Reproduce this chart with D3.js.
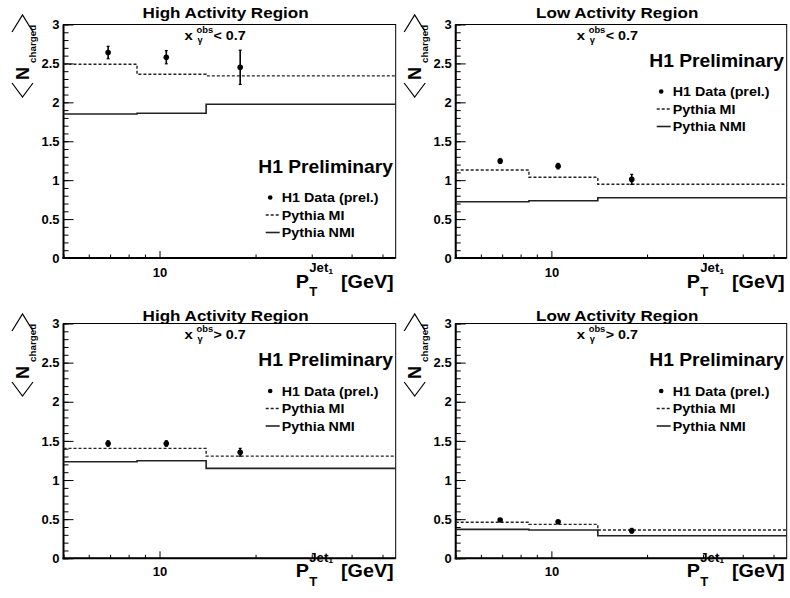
<!DOCTYPE html>
<html>
<head>
<meta charset="utf-8">
<script src="https://cdn.jsdelivr.net/npm/d3@7"></script>
<style>
body { margin: 0; background: #fff; }
svg text { font-family: "Liberation Sans", Arial, sans-serif; font-weight: bold; fill: #000; }
</style>
</head>
<body>
<div id="chart"></div>
<script>
// bins in P_T (GeV) and mean P_T of the data points
const binEdges = [5, 8.5, 14, 55];
const ptMeans = [6.9, 10.5, 17.9];

// panels: top-left, top-right, bottom-left, bottom-right
const regionTitles = ["High Activity Region", "Low Activity Region", "High Activity Region", "Low Activity Region"];
const xgCuts = ["< 0.7", "< 0.7", "> 0.7", "> 0.7"];

const dataY   = [[2.64, 2.58, 2.45], [1.245, 1.18, 1.01], [1.467, 1.467, 1.355], [0.49, 0.467, 0.352]];
const dataErr = [[0.08, 0.085, 0.22], [0.03, 0.035, 0.065], [0.035, 0.035, 0.05], [0.015, 0.015, 0.03]];
const pythiaMI  = [[2.49, 2.36, 2.34], [1.13, 1.037, 0.947], [1.405, 1.405, 1.306], [0.46, 0.434, 0.361]];
const pythiaNMI = [[1.85, 1.86, 1.975], [0.723, 0.736, 0.775], [1.234, 1.247, 1.149], [0.37, 0.361, 0.289]];

const yMajor = [0, 0.5, 1, 1.5, 2, 2.5, 3];
const xMajor = [10];
const xMinor = [5, 6, 7, 8, 9, 20, 30, 40, 50];
const legendLabels = ["H1 Data (prel.)", "Pythia MI", "Pythia NMI"];

const W = 790, H = 598, SX = 1.1;
const cols = [[63.5, 395.7], [455.7, 786.7]];
const rows = [[24.5, 258], [323.5, 558.3]];
const legTop = [177.5, 71.5, 72, 72];
const titleDy = [-6.3, -2.5];
const xlabDy = [29.5, 18.7];
const tickDy = [18.7, 17.7];

const svg = d3.select("#chart").append("svg")
    .attr("width", W)
    .attr("height", H);

function txt(g, x, y, s, size, anchor) {
    return g.append("text")
        .attr("transform", `translate(${x},${y}) scale(${SX},1)`)
        .attr("text-anchor", anchor || "start")
        .style("font-size", size + "px")
        .text(s);
}

function drawPanel(p) {
    const r = Math.floor(p / 2), c = p % 2;
    const [L, R] = cols[c];
    const [T, B] = rows[r];
    const g = svg.append("g");

    const x = d3.scaleLog().domain([binEdges[0], binEdges[binEdges.length - 1]]).range([L, R]);
    const y = d3.scaleLinear().domain([0, 3]).range([B, T]);

    // frame
    g.append("rect").attr("x", L).attr("y", T).attr("width", R - L).attr("height", B - T)
        .attr("fill", "none").attr("stroke", "#000").attr("stroke-width", 1);

    // y axis
    const yMin = g.append("g").attr("transform", `translate(${L},0)`)
        .call(d3.axisLeft(y).tickValues(d3.range(0, 31).map(i => i / 10)).tickSize(-5).tickFormat(""));
    const yMaj = g.append("g").attr("transform", `translate(${L},0)`)
        .call(d3.axisLeft(y).tickValues(yMajor).tickSize(-10).tickPadding(4).tickFormat(d => String(d)));
    // x axis
    const xMin = g.append("g").attr("transform", `translate(0,${B})`)
        .call(d3.axisBottom(x).tickValues(xMinor).tickSize(-3.5).tickFormat(""));
    const xMaj = g.append("g").attr("transform", `translate(0,${B})`)
        .call(d3.axisBottom(x).tickValues(xMajor).tickSize(-7).tickPadding(tickDy[r] - 9.2).tickFormat(d => String(d)));
    [yMin, yMaj, xMin, xMaj].forEach(a => {
        a.select(".domain").remove();
        a.selectAll("line").attr("stroke", "#000").attr("stroke-width", 1);
        a.selectAll("text").attr("fill", "#000").style("font-size", "13px")
            .style("font-family", "'Liberation Sans', Arial, sans-serif").style("font-weight", "bold");
    });
    g.append("line").attr("x1", L).attr("x2", L).attr("y1", T).attr("y2", B + 1)
        .attr("stroke", "#000").attr("stroke-width", 2);
    g.append("line").attr("x1", L - 1).attr("x2", R).attr("y1", B).attr("y2", B)
        .attr("stroke", "#000").attr("stroke-width", 2);

    // pythia histograms as steps
    const step = d3.line().x(d => x(d[0])).y(d => y(d[1])).curve(d3.curveStepAfter);
    const pts = vals => binEdges.map((e, i) => [e, vals[Math.min(i, vals.length - 1)]]);
    g.append("path").attr("d", step(pts(pythiaNMI[p])))
        .attr("fill", "none").attr("stroke", "#222").attr("stroke-width", 1.6);
    g.append("path").attr("d", step(pts(pythiaMI[p])))
        .attr("fill", "none").attr("stroke", "#222").attr("stroke-width", 1.4)
        .attr("stroke-dasharray", "3,2");

    // data points with errors
    ptMeans.forEach((m, i) => {
        const v = dataY[p][i], e = dataErr[p][i];
        g.append("line").attr("x1", x(m)).attr("x2", x(m)).attr("y1", y(v - e)).attr("y2", y(v + e))
            .attr("stroke", "#000").attr("stroke-width", 1.6);
        [v - e, v + e].forEach(ev => {
            g.append("line").attr("x1", x(m) - 1.5).attr("x2", x(m) + 1.5).attr("y1", y(ev)).attr("y2", y(ev))
                .attr("stroke", "#000").attr("stroke-width", 1.2);
        });
        g.append("circle").attr("cx", x(m)).attr("cy", y(v)).attr("r", 2.8).attr("fill", "#000");
    });

    // titles
    txt(g, (L + R) / 2 - 4, T + titleDy[r], regionTitles[p], 15.5, "middle");
    txt(g, L + 121, T + 15, "x", 13.5);
    txt(g, L + 133, T + 8, "obs", 8.5);
    txt(g, L + 134, T + 18, "γ", 8.5);
    txt(g, L + 150, T + 15, xgCuts[p], 13);

    // H1 Preliminary and legend
    const ly = T + legTop[p];
    txt(g, R - 2.7, ly - 29.5, "H1 Preliminary", 17.5, "end");
    legendLabels.forEach((lab, i) => {
        const by = ly + i * 17.5;
        txt(g, R - 114, by, lab, 13);
        const my = by - 4.5;
        if (i === 0) {
            g.append("circle").attr("cx", R - 125.5).attr("cy", my).attr("r", 2.3).attr("fill", "#000");
        } else {
            g.append("line").attr("x1", R - 130).attr("x2", R - 116).attr("y1", my).attr("y2", my)
                .attr("stroke", "#222").attr("stroke-width", i === 1 ? 1.4 : 1.6)
                .attr("stroke-dasharray", i === 1 ? "3,2" : null);
        }
    });

    // x axis title P_T^{Jet_1} [GeV]
    const lb = B + xlabDy[r];
    txt(g, R - 100, lb, "P", 18);
    txt(g, R - 86.5, lb + 8.5, "T", 12);
    txt(g, R - 86.5, lb - 15.5, "Jet", 12);
    txt(g, R - 67.5, lb - 14, "1", 8);
    txt(g, R - 2, lb, "[GeV]", 18, "end");

    // y axis title <N_charged>
    const yl = g.append("g").attr("transform", `translate(${L - 35},${T + 57}) rotate(-90)`);
    yl.append("path").attr("d", "M-1.5,-16.5L-15.5,-6L-1.5,4.5")
        .attr("fill", "none").attr("stroke", "#000").attr("stroke-width", 1.2);
    yl.append("text").attr("x", 1.5).attr("y", 0)
        .style("font-size", "18px").text("N");
    yl.append("text").attr("x", 18.5).attr("y", 7.5).style("font-size", "9.8px").text("charged");
    yl.append("path").attr("d", "M49.5,-16.5L66.5,-6L49.5,4.5")
        .attr("fill", "none").attr("stroke", "#000").attr("stroke-width", 1.2);
}

[0, 1, 2, 3].forEach(drawPanel);
</script>
</body>
</html>
